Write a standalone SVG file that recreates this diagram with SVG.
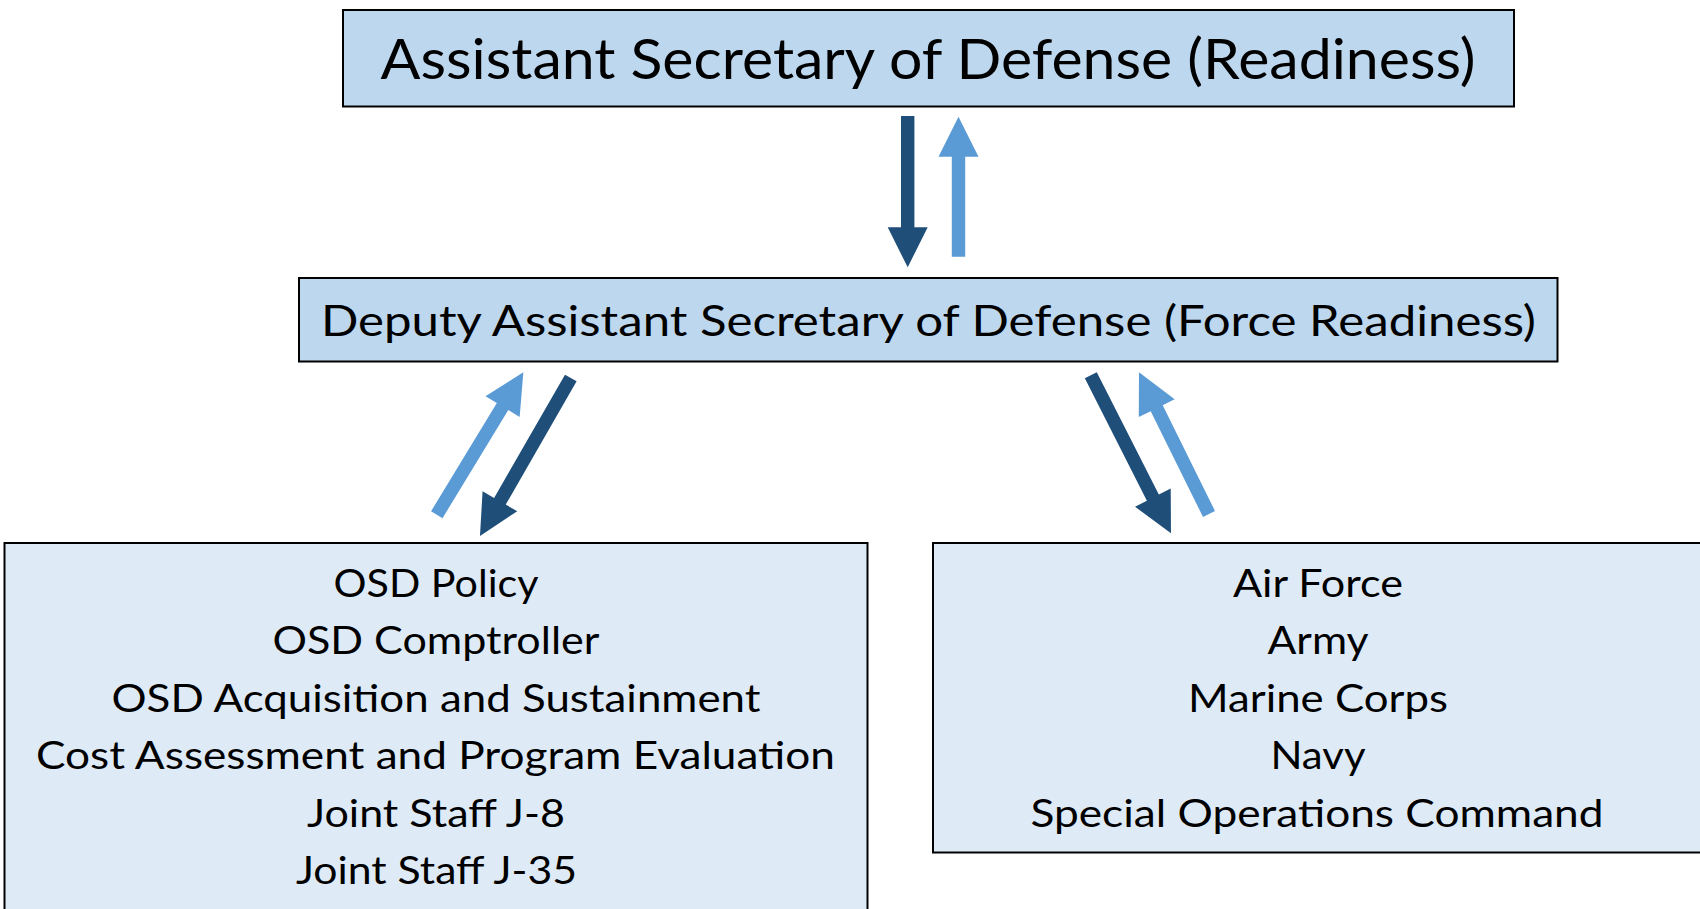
<svg xmlns="http://www.w3.org/2000/svg" width="1700" height="909" viewBox="0 0 1700 909">
<style>
.hdr{fill:#BDD7EE;stroke:#000;stroke-width:2}
.sub{fill:#DEEBF7;stroke:#000;stroke-width:2}
text{font-family:Lato,"Open Sans","Liberation Sans",sans-serif;fill:#000;text-anchor:middle}
.t1{font-size:57px}
.t2{font-size:43px}
.t3{font-size:39.5px}
.dark{fill:#1F4E79}
.light{fill:#5B9BD5}
</style>
<rect width="1700" height="909" fill="#fff"/>
<g id="asd">
<rect class="hdr" x="343" y="10" width="1171" height="96.5"/>
<text class="t1" x="928" y="79" textLength="1095" lengthAdjust="spacingAndGlyphs">Assistant Secretary of Defense (Readiness)</text>
</g>
<g id="dasd">
<rect class="hdr" x="299" y="278" width="1258.5" height="83.5"/>
<text class="t2" x="928.5" y="336" textLength="1215" lengthAdjust="spacingAndGlyphs">Deputy Assistant Secretary of Defense (Force Readiness)</text>
</g>
<g id="osd">
<rect class="sub" x="4.5" y="543" width="863" height="380"/>
<text class="t3" x="436" y="596.7" textLength="205" lengthAdjust="spacingAndGlyphs">OSD Policy</text>
<text class="t3" x="436" y="654.3" textLength="327" lengthAdjust="spacingAndGlyphs">OSD Comptroller</text>
<text class="t3" x="436" y="711.7" textLength="649" lengthAdjust="spacingAndGlyphs">OSD Acquisition and Sustainment</text>
<text class="t3" x="435.5" y="769.3" textLength="799" lengthAdjust="spacingAndGlyphs">Cost Assessment and Program Evaluation</text>
<text class="t3" x="436" y="827.3" textLength="258" lengthAdjust="spacingAndGlyphs">Joint Staff J-8</text>
<text class="t3" x="436.5" y="884" textLength="281" lengthAdjust="spacingAndGlyphs">Joint Staff J-35</text>
</g>
<g id="services">
<rect class="sub" x="933" y="543" width="772" height="309.5"/>
<text class="t3" x="1318" y="596.7" textLength="170" lengthAdjust="spacingAndGlyphs">Air Force</text>
<text class="t3" x="1318" y="654.3" textLength="101" lengthAdjust="spacingAndGlyphs">Army</text>
<text class="t3" x="1318" y="711.7" textLength="260" lengthAdjust="spacingAndGlyphs">Marine Corps</text>
<text class="t3" x="1318" y="769.3" textLength="95" lengthAdjust="spacingAndGlyphs">Navy</text>
<text class="t3" x="1317" y="827.3" textLength="573" lengthAdjust="spacingAndGlyphs">Special Operations Command</text>
</g>
<g id="connectors">
<path class="dark" transform="translate(907.7,116) rotate(90)" d="M0,-6.7 L111.3,-6.7 L111.3,-20 L151.3,0 L111.3,20 L111.3,6.7 L0,6.7 Z"/>
<path class="light" transform="translate(958.5,256.7) rotate(-90)" d="M0,-6.7 L100,-6.7 L100,-20 L140,0 L100,20 L100,6.7 L0,6.7 Z"/>
<path class="light" transform="translate(436.8,514.7) rotate(-58.7)" d="M0,-6.7 L126.6,-6.7 L126.6,-20 L166.6,0 L126.6,20 L126.6,6.7 L0,6.7 Z"/>
<path class="dark" transform="translate(570.8,378) rotate(119.9)" d="M0,-6.7 L142.2,-6.7 L142.2,-20 L182.2,0 L142.2,20 L142.2,6.7 L0,6.7 Z"/>
<path class="dark" transform="translate(1090.8,375.3) rotate(63.1)" d="M0,-6.7 L137.2,-6.7 L137.2,-20 L177.2,0 L137.2,20 L137.2,6.7 L0,6.7 Z"/>
<path class="light" transform="translate(1209,514) rotate(-116.3)" d="M0,-6.7 L118,-6.7 L118,-20 L158,0 L118,20 L118,6.7 L0,6.7 Z"/>
</g>
</svg>
